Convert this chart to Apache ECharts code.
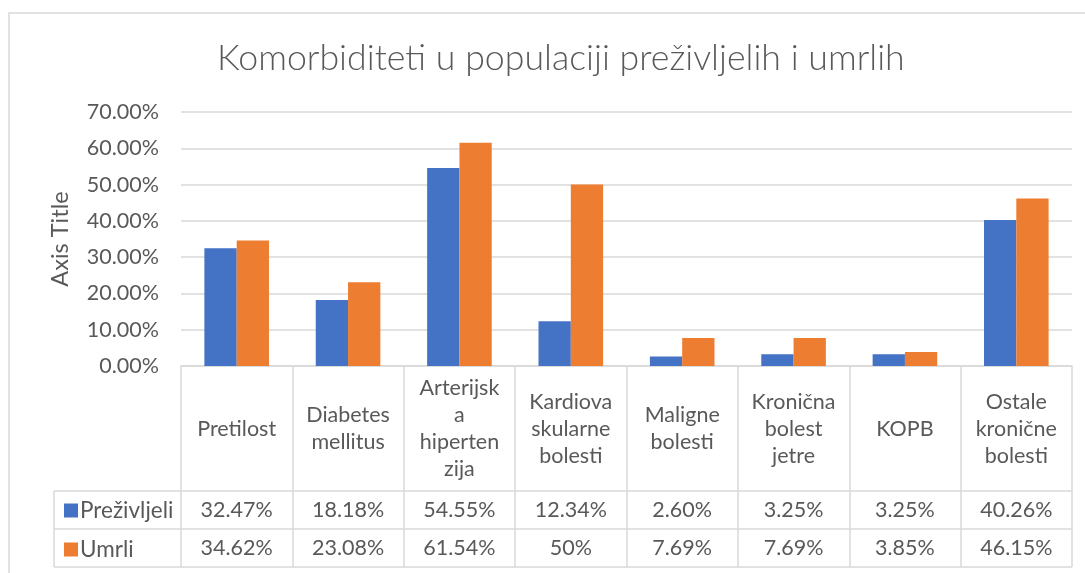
<!DOCTYPE html>
<html>
<head>
<meta charset="utf-8">
<script src="https://cdn.jsdelivr.net/npm/echarts@6/dist/echarts.min.js"></script>
<style>html,body{margin:0;padding:0;background:#fff}#c{width:1085px;height:573px}</style>
</head>
<body>
<div id="c"></div>
<script>
var categories = ['Pretilost', 'Diabetes\nmellitus', 'Arterijsk\na\nhiperten\nzija', 'Kardiova\nskularne\nbolesti', 'Maligne\nbolesti', 'Kronična\nbolest\njetre', 'KOPB', 'Ostale\nkronične\nbolesti'];
var survived = [32.47, 18.18, 54.55, 12.34, 2.60, 3.25, 3.25, 40.26];
var died = [34.62, 23.08, 61.54, 50, 7.69, 7.69, 3.85, 46.15];
var seriesNames = ['Preživljeli', 'Umrli'];
var yTicks = [0, 10, 20, 30, 40, 50, 60, 70];

var FONT = 'Lato';
var TXT = '#595959';
var LINE = '#d9d9d9';
var G = {left: 181, right: 13, top: 112, bottom: 207};
var W = 1085, H = 573;
var axisY = H - G.bottom;      // 366
var row1 = axisY + 125;        // 491
var row2 = row1 + 38;          // 529
var row3 = row2 + 38;          // 567
var legendLeft = 54;
var FS = 21.5;

function fmt(v) { return Number.isInteger(v) ? v + '%' : v.toFixed(2) + '%'; }

var chart = echarts.init(document.getElementById('c'));
chart.setOption({
  animation: false,
  textStyle: {fontFamily: FONT},
  color: ['#4472C4', '#ED7D31'],
  title: {
    text: 'Komorbiditeti u populaciji preživljelih i umrlih',
    left: 212, top: 35,
    textStyle: {fontFamily: FONT, fontSize: 35.7, fontWeight: 300, color: TXT}
  },
  legend: {
    orient: 'vertical', left: 59, top: 494,
    itemWidth: 14, itemHeight: 14, itemGap: 16, icon: 'rect',
    textStyle: {fontFamily: FONT, fontSize: 22.5, color: TXT, lineHeight: 22, padding: [0, 0, 0, -3]},
    data: seriesNames
  },
  grid: G,
  xAxis: [
    {
      type: 'category', data: categories, position: 'bottom',
      axisLine: {show: true, lineStyle: {color: LINE, width: 1.5}},
      axisTick: {show: true, interval: 0, length: row3 - axisY, lineStyle: {color: LINE, width: 1.5}},
      axisLabel: {interval: 0, margin: 63, verticalAlign: 'middle', color: TXT, fontSize: FS, lineHeight: 27, fontFamily: FONT}
    },
    {
      type: 'category', data: survived.map(fmt), position: 'bottom',
      axisLine: {show: false}, axisTick: {show: false},
      axisLabel: {interval: 0, margin: row1 - axisY + 19, verticalAlign: 'middle', color: TXT, fontSize: FS, fontFamily: FONT}
    },
    {
      type: 'category', data: died.map(fmt), position: 'bottom',
      axisLine: {show: false}, axisTick: {show: false},
      axisLabel: {interval: 0, margin: row2 - axisY + 19, verticalAlign: 'middle', color: TXT, fontSize: FS, fontFamily: FONT}
    }
  ],
  yAxis: {
    type: 'value', min: yTicks[0], max: yTicks[yTicks.length - 1], interval: 10,
    name: 'Axis Title', nameLocation: 'middle', nameRotate: 90, nameGap: 109,
    nameTextStyle: {fontFamily: FONT, fontSize: 23.5, color: TXT},
    axisLine: {show: false}, axisTick: {show: false},
    axisLabel: {formatter: function (v) { return v.toFixed(2) + '%'; }, color: TXT, fontSize: FS, margin: 22, fontFamily: FONT},
    splitLine: {lineStyle: {color: LINE, width: 1.5}}
  },
  series: [
    {name: seriesNames[0], type: 'bar', data: survived, barGap: '0%', barCategoryGap: '42%', itemStyle: {color: '#4472C4'}},
    {name: seriesNames[1], type: 'bar', data: died, barGap: '0%', barCategoryGap: '42%', itemStyle: {color: '#ED7D31'}}
  ],
  graphic: [
    {type: 'polyline', silent: true, shape: {points: [[9, H + 2], [9, 13], [W + 2, 13]]}, style: {fill: null, stroke: LINE, lineWidth: 1.5}},
    {type: 'line', silent: true, shape: {x1: legendLeft, y1: row1, x2: W - G.right, y2: row1}, style: {stroke: LINE, lineWidth: 1.5}},
    {type: 'line', silent: true, shape: {x1: legendLeft, y1: row2, x2: W - G.right, y2: row2}, style: {stroke: LINE, lineWidth: 1.5}},
    {type: 'line', silent: true, shape: {x1: legendLeft, y1: row3, x2: W - G.right, y2: row3}, style: {stroke: LINE, lineWidth: 1.5}},
    {type: 'line', silent: true, shape: {x1: legendLeft, y1: row1, x2: legendLeft, y2: row3}, style: {stroke: LINE, lineWidth: 1.5}}
  ]
});
</script>
</body>
</html>
